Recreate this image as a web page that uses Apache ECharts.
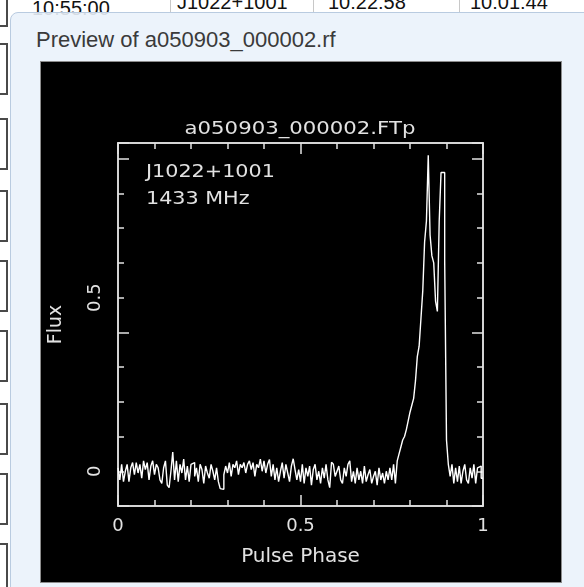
<!DOCTYPE html>
<html>
<head>
<meta charset="utf-8">
<title>a050903_000002.FTp</title>
<script src="https://cdn.jsdelivr.net/npm/echarts@6/dist/echarts.min.js"></script>
<style>
  html, body { margin: 0; padding: 0; width: 584px; height: 587px; overflow: hidden; background: #fff; }
  body { position: relative; font-family: "Liberation Sans", Arial, sans-serif; }
  .cell { position: absolute; top: -9px; font-size: 20px; color: #111; white-space: nowrap; }
  .sep { position: absolute; top: 0; width: 1px; height: 12px; background: #c8c8c8; }
  .box { position: absolute; left: -30px; width: 34px; height: 48px; border: 2px solid #4a4a4a; background: #fff; }
  #popover { position: absolute; left: 10px; top: 12px; width: 620px; height: 620px;
    background: rgba(234, 242, 251, 0.9); border: 1px solid #b9cbe0; border-radius: 8px; }
  #caption { position: absolute; left: 36px; top: 29px; font-size: 22px; line-height: 22px; color: #3a3a3a; white-space: nowrap; }
  #panel { position: absolute; left: 40px; top: 61px; width: 522px; height: 522px; box-sizing: border-box;
    background: #000; border: 1px solid #8c8c8c; }
  #main { position: absolute; left: 0; top: 0; width: 584px; height: 587px; }
</style>
</head>
<body>
<!-- table row behind the preview popover -->
<div class="cell" style="left:32px; top:-3px">10:55:00</div>
<div class="sep" style="left:170px"></div>
<div class="cell" style="left:177px">J1022+1001</div>
<div class="sep" style="left:313px"></div>
<div class="cell" style="left:328px">10:22:58</div>
<div class="sep" style="left:459px"></div>
<div class="cell" style="left:470px">10:01:44</div>

<div class="box" style="top:-25px"></div>
<div class="box" style="top:43px"></div>
<div class="box" style="top:118px"></div>
<div class="box" style="top:190px"></div>
<div class="box" style="top:260px"></div>
<div class="box" style="top:330px"></div>
<div class="box" style="top:403px"></div>
<div class="box" style="top:473px"></div>
<div class="box" style="top:543px"></div>

<div id="popover"></div>
<div id="caption">Preview of a050903_000002.rf</div>
<div id="panel"></div>
<div id="main"></div>

<script>
// profile: 200 phase bins, flux
var nBins = 200;
var flux = [
  0.01, -0.025, 0.02, -0.03, 0.00, 0.02, -0.03, 0.01, 0.025, -0.01,
  0.025, -0.005, 0.02, -0.02, 0.03, 0.005, 0.025, -0.025, 0.015, 0.03,
  -0.01, 0.02, 0.01, -0.025, -0.035, 0.01, 0.03, -0.04, -0.047, 0.00,
  0.055, -0.025, 0.03, -0.03, 0.02, -0.005, 0.035, -0.025, 0.015, -0.03,
  0.02, 0.025, -0.015, 0.01, -0.03, 0.02, 0.005, -0.035, 0.015, -0.005,
  -0.02, 0.02, 0.00, -0.025, 0.01, -0.03, -0.05, -0.052, -0.01, 0.015,
  -0.005, 0.025, -0.015, 0.02, 0.01, 0.03, -0.01, 0.02, 0.01, 0.025,
  -0.005, 0.02, 0.03, 0.005, 0.025, -0.015, 0.02, 0.01, 0.035, 0.00,
  0.03, -0.005, 0.02, 0.034, -0.015, 0.02, -0.025, 0.01, -0.03, 0.00,
  0.025, -0.02, 0.02, -0.005, -0.03, 0.015, 0.036, 0.005, -0.025, 0.005,
  -0.03, 0.02, -0.035, 0.01, -0.015, 0.015, -0.04, 0.005, 0.02, -0.025,
  0.00, -0.035, 0.01, -0.02, 0.02, -0.025, -0.047, 0.026, 0.02, -0.015,
  0.00, 0.015, -0.025, -0.035, 0.01, -0.015, 0.02, 0.03, -0.03, 0.00,
  -0.035, 0.01, -0.025, 0.00, -0.035, 0.015, -0.03, -0.01, 0.005, -0.035,
  -0.015, 0.00, -0.04, 0.01, -0.025, -0.005, -0.035, 0.00, -0.025, 0.01,
  -0.025, 0.02, -0.035, 0.03, 0.05, 0.07, 0.09, 0.10, 0.12, 0.145,
  0.17, 0.19, 0.21, 0.26, 0.33, 0.36, 0.44, 0.52, 0.66, 0.72,
  0.91, 0.68, 0.62, 0.60, 0.49, 0.46, 0.72, 0.86, 0.86, 0.61,
  0.09, 0.02, -0.015, 0.02, -0.035, 0.01, -0.03, 0.015, -0.035, 0.00,
  0.02, -0.025, -0.035, 0.01, -0.02, 0.02, -0.035, 0.01, 0.015, -0.02
];
var xTickLabels = [0, 0.5, 1];
var yTickLabels = [0, 0.5];
var plotTitle = 'a050903_000002.FTp';
var psrName = 'J1022+1001';
var obsFreq = '1433 MHz';

var fg = '#e2e2e2';
var pgFont = 'DejaVu Sans';

// histogram steps: left bin edges plus closing point at phase 1
var profile = flux.map(function (v, i) { return [i / nBins, v]; });
profile.push([1, flux[nBins - 1]]);

function pick(list) {
  return function (v) {
    for (var i = 0; i < list.length; i++) {
      if (Math.abs(v - list[i]) < 1e-6) return String(list[i]);
    }
    return '';
  };
}

function xAxisCfg(pos, step, len, labels) {
  return {
    type: 'value', position: pos, min: 0, max: 1, interval: step,
    axisLine: { show: true, onZero: false, lineStyle: { color: fg, width: 1.5 } },
    axisTick: { show: true, inside: true, length: len, lineStyle: { color: fg, width: 1.5 } },
    axisLabel: labels ? {
      show: true, margin: 11, color: fg, fontFamily: pgFont, fontSize: 18,
      showMinLabel: true, showMaxLabel: true, formatter: pick(labels)
    } : { show: false },
    splitLine: { show: false }
  };
}

function yAxisCfg(pos, step, len, labels) {
  return {
    type: 'value', position: pos, min: -0.1, max: 0.945, interval: step,
    axisLine: { show: true, onZero: false, lineStyle: { color: fg, width: 1.5 } },
    axisTick: { show: true, inside: true, length: len, lineStyle: { color: fg, width: 1.5 } },
    axisLabel: labels ? {
      show: true, rotate: 90, margin: 14, color: fg, fontFamily: pgFont, fontSize: 18,
      showMinLabel: true, formatter: pick(labels)
    } : { show: false },
    splitLine: { show: false }
  };
}

var xBottom = xAxisCfg('bottom', 0.1, 6, xTickLabels);
xBottom.name = 'Pulse Phase';
xBottom.nameLocation = 'middle';
xBottom.nameGap = 41;
xBottom.nameTextStyle = { color: fg, fontFamily: pgFont, fontSize: 20 };

var yLeft = yAxisCfg('left', 0.1, 6, yTickLabels);
yLeft.name = 'Flux';
yLeft.nameLocation = 'middle';
yLeft.nameRotate = 90;
yLeft.nameGap = 52;
yLeft.nameTextStyle = { color: fg, fontFamily: pgFont, fontSize: 19 };

var chart = echarts.init(document.getElementById('main'), null, { renderer: 'canvas' });
chart.setOption({
  animation: false,
  backgroundColor: 'transparent',
  grid: { left: 118, right: 101, top: 143, bottom: 81 },
  xAxis: [
    xBottom,
    xAxisCfg('bottom', 0.5, 11, null),
    xAxisCfg('top', 0.1, 6, null),
    xAxisCfg('top', 0.5, 11, null)
  ],
  yAxis: [
    yLeft,
    yAxisCfg('left', 0.5, 11, null),
    yAxisCfg('right', 0.1, 6, null),
    yAxisCfg('right', 0.5, 11, null)
  ],
  graphic: [
    { type: 'text', x: 300, y: 129, scaleX: 1.18,
      style: { text: plotTitle, align: 'center', verticalAlign: 'middle', fill: fg, font: '18px "DejaVu Sans"' } },
    { type: 'text', x: 146, y: 172, scaleX: 1.15,
      style: { text: psrName, align: 'left', verticalAlign: 'middle', fill: fg, font: '18px "DejaVu Sans"' } },
    { type: 'text', x: 146, y: 199, scaleX: 1.15,
      style: { text: obsFreq, align: 'left', verticalAlign: 'middle', fill: fg, font: '18px "DejaVu Sans"' } }
  ],
  series: [{
    type: 'line',
    xAxisIndex: 0,
    yAxisIndex: 0,
    step: 'end',
    showSymbol: false,
    silent: true,
    lineStyle: { color: '#ffffff', width: 1.4 },
    data: profile
  }]
});
</script>
</body>
</html>
